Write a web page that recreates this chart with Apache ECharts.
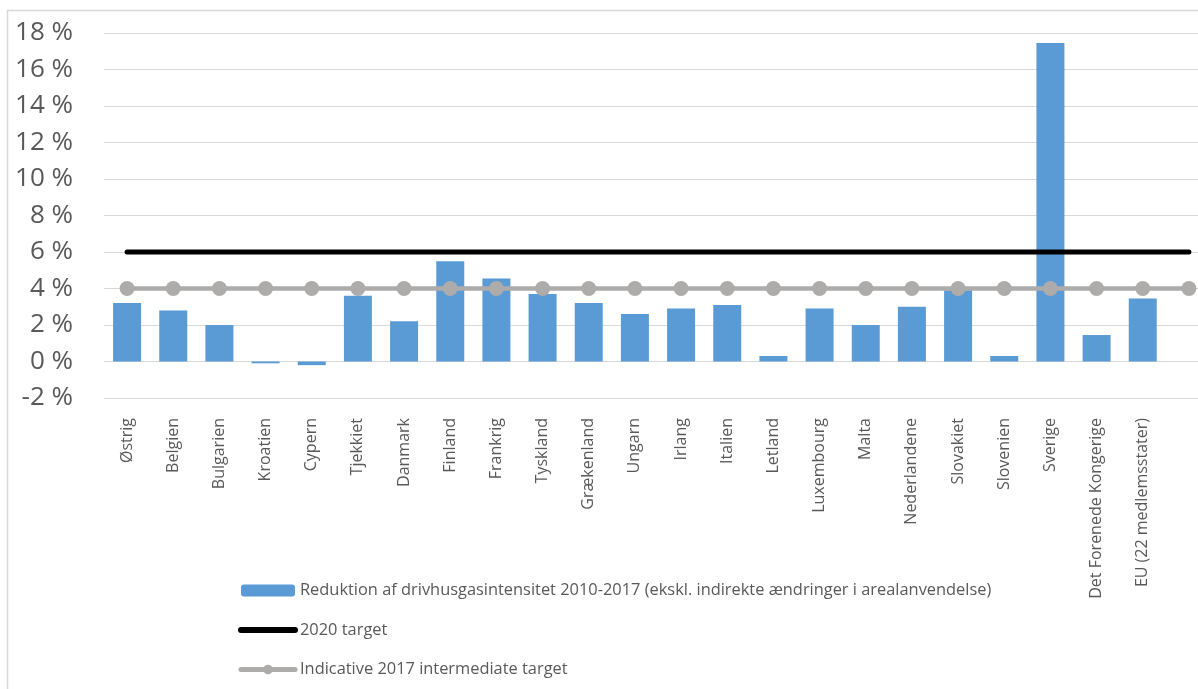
<!DOCTYPE html>
<html>
<head>
<meta charset="utf-8">
<script src="https://cdn.jsdelivr.net/npm/echarts@6/dist/echarts.min.js"></script>
<style>
  html, body { margin: 0; padding: 0; background: #fff; }
  .wrapper { width: 1198px; height: 689px; }
</style>
</head>
<body>
<div class="wrapper"></div>
<script>
// lande (sidste kategori er tom, så linjerne fortsætter et punkt længere)
var lande = ['Østrig', 'Belgien', 'Bulgarien', 'Kroatien', 'Cypern', 'Tjekkiet', 'Danmark',
  'Finland', 'Frankrig', 'Tyskland', 'Grækenland', 'Ungarn', 'Irlang', 'Italien', 'Letland',
  'Luxembourg', 'Malta', 'Nederlandene', 'Slovakiet', 'Slovenien', 'Sverige',
  'Det Forenede Kongerige', 'EU (22 medlemsstater)', ''];
// reduktion i procent
var reduktion = [3.2, 2.8, 2.0, -0.1, -0.2, 3.6, 2.2, 5.5, 4.55, 3.7, 3.2, 2.6, 2.9, 3.1, 0.3,
  2.9, 2.0, 3.0, 3.9, 0.3, 17.45, 1.45, 3.45, null];
var target2020 = [6, 6, 6, 6, 6, 6, 6, 6, 6, 6, 6, 6, 6, 6, 6, 6, 6, 6, 6, 6, 6, 6, 6, 6];
var target2017 = [4, 4, 4, 4, 4, 4, 4, 4, 4, 4, 4, 4, 4, 4, 4, 4, 4, 4, 4, 4, 4, 4, 4, 4];
var navne = ['Reduktion af drivhusgasintensitet 2010-2017 (ekskl. indirekte ændringer i arealanvendelse)',
  '2020 target', 'Indicative 2017 intermediate target'];

var myChart = echarts.init(document.getElementsByClassName('wrapper')[0]);

var option = {
  animation: false,
  textStyle: { fontFamily: 'Open Sans' },
  graphic: [{
    type: 'rect',
    shape: { x: 7.5, y: 10.5, width: 1300, height: 800 },
    style: { fill: 'none', stroke: '#D9D9D9', lineWidth: 1.5 },
    silent: true
  }],
  // plottet går lidt ud over billedets højre kant
  grid: { left: 104, width: 1108, top: 33, bottom: 291, outerBoundsMode: 'none' },
  legend: {
    orient: 'vertical',
    left: 238,
    top: 581,
    padding: 0,
    itemWidth: 54,
    itemHeight: 12,
    itemGap: 20.5,
    textStyle: { color: '#595959', fontSize: 16.4, fontFamily: 'Open Sans', lineHeight: 19 },
    data: [
      { name: navne[0] },
      { name: navne[1], itemStyle: { opacity: 0 }, lineStyle: { width: 6, cap: 'round', color: '#000' } },
      { name: navne[2], lineStyle: { width: 5, cap: 'round', color: '#AEABAB' } }
    ]
  },
  xAxis: {
    type: 'category',
    data: lande,
    axisLine: { show: false, onZero: false },
    axisTick: { show: false },
    axisLabel: {
      rotate: 90,
      interval: 0,
      margin: 20,
      color: '#595959',
      fontSize: 16,
      fontFamily: 'Open Sans'
    }
  },
  yAxis: {
    type: 'value',
    min: -2,
    max: 18,
    interval: 2,
    axisLine: { show: false },
    axisTick: { show: false },
    splitLine: { lineStyle: { color: '#D9D9D9', width: 1.2 } },
    axisLabel: {
      margin: 31,
      color: '#595959',
      fontSize: 26,
      fontFamily: 'Open Sans',
      formatter: function (v) { return v + ' %'; }
    }
  },
  series: [
    {
      name: navne[0],
      type: 'bar',
      data: reduktion,
      barWidth: 28,
      itemStyle: { color: '#5B9BD5' }
    },
    {
      name: navne[1],
      type: 'line',
      data: target2020,
      symbol: 'none',
      lineStyle: { color: '#000', width: 5, cap: 'round' },
      itemStyle: { color: '#000' }
    },
    {
      name: navne[2],
      type: 'line',
      data: target2017,
      symbol: 'circle',
      symbolSize: 15,
      lineStyle: { color: '#AEABAB', width: 4.5 },
      itemStyle: { color: '#AEABAB' }
    }
  ]
};

myChart.setOption(option);
</script>
</body>
</html>
